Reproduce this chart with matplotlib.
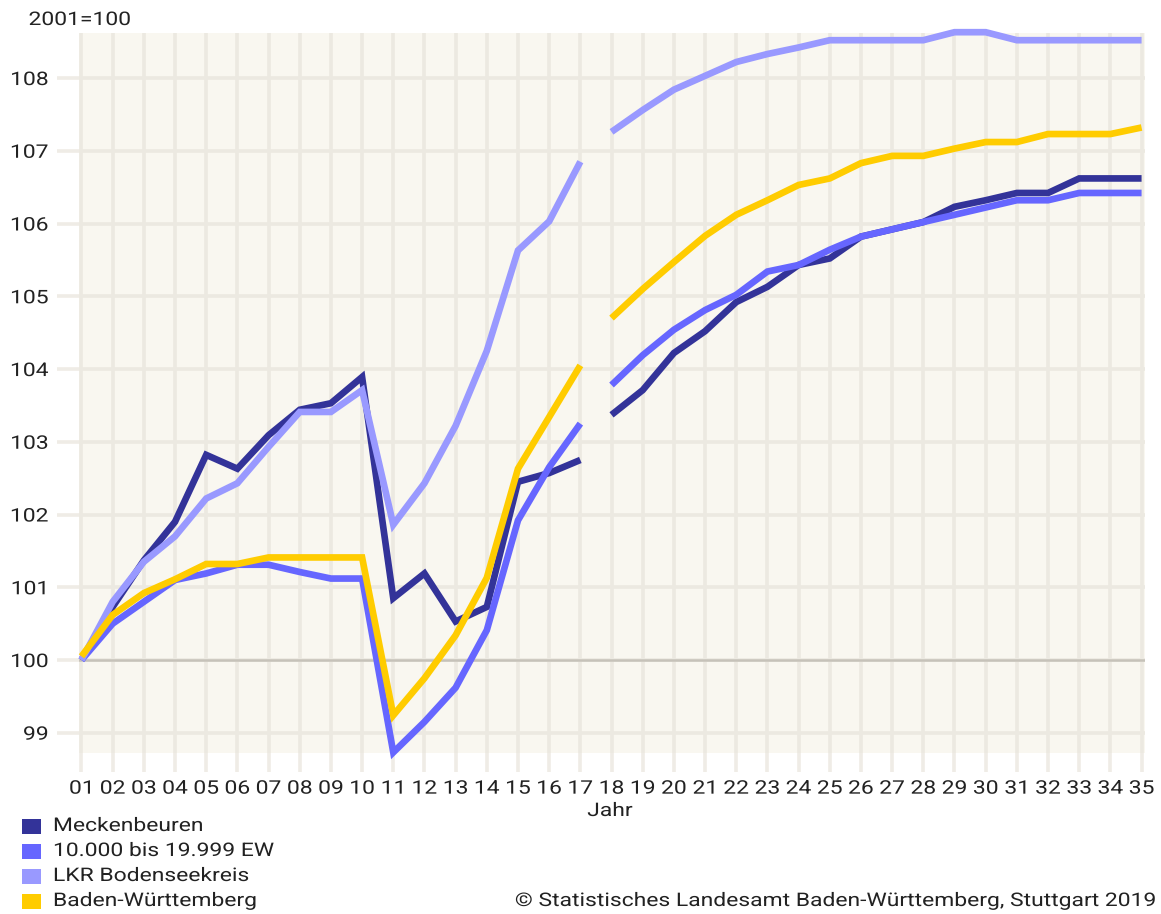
import matplotlib
matplotlib.use("Agg")
import matplotlib.pyplot as plt
from matplotlib.patches import Rectangle
from matplotlib.patheffects import AbstractPathEffect
from matplotlib.transforms import Affine2D

plt.rcParams['font.family'] = ['Roboto', 'DejaVu Sans']

years = ['01', '02', '03', '04', '05', '06', '07', '08', '09', '10',
         '11', '12', '13', '14', '15', '16', '17', '18', '19', '20',
         '21', '22', '23', '24', '25', '26', '27', '28', '29', '30',
         '31', '32', '33', '34', '35']

meckenbeuren = [100.0, 100.73, 101.37, 101.9, 102.82, 102.63, 103.09, 103.44, 103.53, 103.89,
                100.85, 101.19, 100.53, 100.73, 102.45, 102.57, 102.75, 103.37, 103.71, 104.22,
                104.52, 104.92, 105.13, 105.43, 105.52, 105.82, 105.92, 106.02, 106.23, 106.32,
                106.42, 106.42, 106.62, 106.62, 106.62]

gemeinden_10_20 = [100.0, 100.5, 100.8, 101.1, 101.19, 101.31, 101.31, 101.21, 101.12, 101.12,
                   98.73, 99.15, 99.62, 100.41, 101.92, 102.65, 103.25, 103.78, 104.19, 104.54,
                   104.81, 105.02, 105.34, 105.43, 105.64, 105.82, 105.92, 106.02, 106.12, 106.22,
                   106.32, 106.32, 106.42, 106.42, 106.42]

lkr_bodensee = [100.0, 100.8, 101.35, 101.7, 102.22, 102.43, 102.93, 103.41, 103.41, 103.71,
                101.86, 102.43, 103.22, 104.25, 105.63, 106.03, 106.85, 107.26, 107.56, 107.84,
                108.03, 108.22, 108.33, 108.42, 108.52, 108.52, 108.52, 108.52, 108.63, 108.63,
                108.52, 108.52, 108.52, 108.52, 108.52]

baden_wuerttemberg = [100.05, 100.62, 100.92, 101.11, 101.32, 101.32, 101.41, 101.41, 101.41, 101.41,
                      99.24, 99.75, 100.34, 101.13, 102.63, 103.34, 104.05, 104.7, 105.1, 105.47,
                      105.83, 106.12, 106.32, 106.53, 106.62, 106.83, 106.93, 106.93, 107.03, 107.12,
                      107.12, 107.23, 107.23, 107.23, 107.32]

series_names = ['Meckenbeuren', '10.000 bis 19.999 EW', 'LKR Bodenseekreis', 'Baden-Württemberg']
series_values = [meckenbeuren, gemeinden_10_20, lkr_bodensee, baden_wuerttemberg]
series_colors = ['#333399', '#6666ff', '#9999ff', '#ffcc00']
y_ticks = [99, 100, 101, 102, 103, 104, 105, 106, 107, 108]
break_after = '17'


class HStretch(AbstractPathEffect):
    """Widen text horizontally about its left / centre / right edge."""
    def __init__(self, sx=1.22, anchor='left'):
        super().__init__()
        self.sx = sx
        self.anchor = anchor

    def draw_path(self, renderer, gc, tpath, affine, rgbFace=None):
        ext = tpath.get_extents(affine)
        if self.anchor == 'left':
            x0 = ext.x0
        elif self.anchor == 'right':
            x0 = ext.x1
        else:
            x0 = 0.5 * (ext.x0 + ext.x1)
        t = affine + Affine2D().translate(-x0, 0).scale(self.sx, 1).translate(x0, 0)
        renderer.draw_path(gc, tpath, t, rgbFace)


SX = 1.22
FS = 13.5
TXT = '#222222'

W, H = 1161, 914
fig = plt.figure(figsize=(W / 100, H / 100), dpi=100)


def fx(px):
    return px / W


def fy(py):
    return 1 - py / H


left, right, top, bottom = 79.3, 1145, 33, 753
ax = fig.add_axes([fx(left), fy(bottom), fx(right - left), (bottom - top) / H])
ax.set_facecolor('#f9f7f0')
for s in ax.spines.values():
    s.set_visible(False)

x = list(range(len(years)))
cut = years.index(break_after) + 1

for name, vals, col in zip(series_names, series_values, series_colors):
    ax.plot(x[:cut], vals[:cut], color=col, lw=4.8, solid_joinstyle='miter',
            solid_capstyle='butt', clip_on=False, zorder=3)
    ax.plot(x[cut:], vals[cut:], color=col, lw=4.8, solid_joinstyle='miter',
            solid_capstyle='butt', clip_on=False, zorder=3)

ax.axhline(100, color='#c6c2b9', lw=1.8, zorder=2)

ax.set_xlim(-0.07, 34.11)
ax.set_ylim(98.722, 108.619)
ax.set_xticks(x)
ax.set_xticklabels(years)
ax.set_yticks(y_ticks)
ax.set_yticklabels([str(v) for v in y_ticks])

gridcol = '#ece9e1'
ax.grid(True, color=gridcol, lw=2.6, zorder=1)
ax.set_axisbelow(True)
ax.tick_params(axis='x', length=13.7, width=2.6, color='#efece6', pad=5.5,
               labelsize=FS, labelcolor=TXT)
ax.tick_params(axis='y', length=15.8, width=2.6, color='#efece6', pad=6.5,
               labelsize=FS, labelcolor=TXT)
for lbl in ax.get_xticklabels():
    lbl.set_path_effects([HStretch(SX, 'center')])
for lbl in ax.get_yticklabels():
    lbl.set_path_effects([HStretch(SX, 'right')])

fig.text(fx(28.7), fy(20), '2001=100', fontsize=FS, color=TXT, ha='left', va='center',
         path_effects=[HStretch(SX, 'left')])
fig.text(fx(610), fy(811), 'Jahr', fontsize=FS, color=TXT, ha='center', va='center',
         path_effects=[HStretch(SX, 'center')])

rows = [826, 851, 876, 901]
for name, col, ry in zip(series_names, series_colors, rows):
    fig.patches.append(Rectangle((fx(21.7), fy(ry + 7.5)), fx(19.3), 15 / H,
                                 transform=fig.transFigure, facecolor=col,
                                 edgecolor='none'))
    fig.text(fx(53.3), fy(ry), name, fontsize=FS, color=TXT, ha='left', va='center',
             path_effects=[HStretch(SX, 'left')])

fig.text(fx(1156), fy(901), '© Statistisches Landesamt Baden-Württemberg, Stuttgart 2019',
         fontsize=FS, color=TXT, ha='right', va='center',
         path_effects=[HStretch(SX, 'right')])

fig.savefig('out.png', dpi=100, facecolor='white')
